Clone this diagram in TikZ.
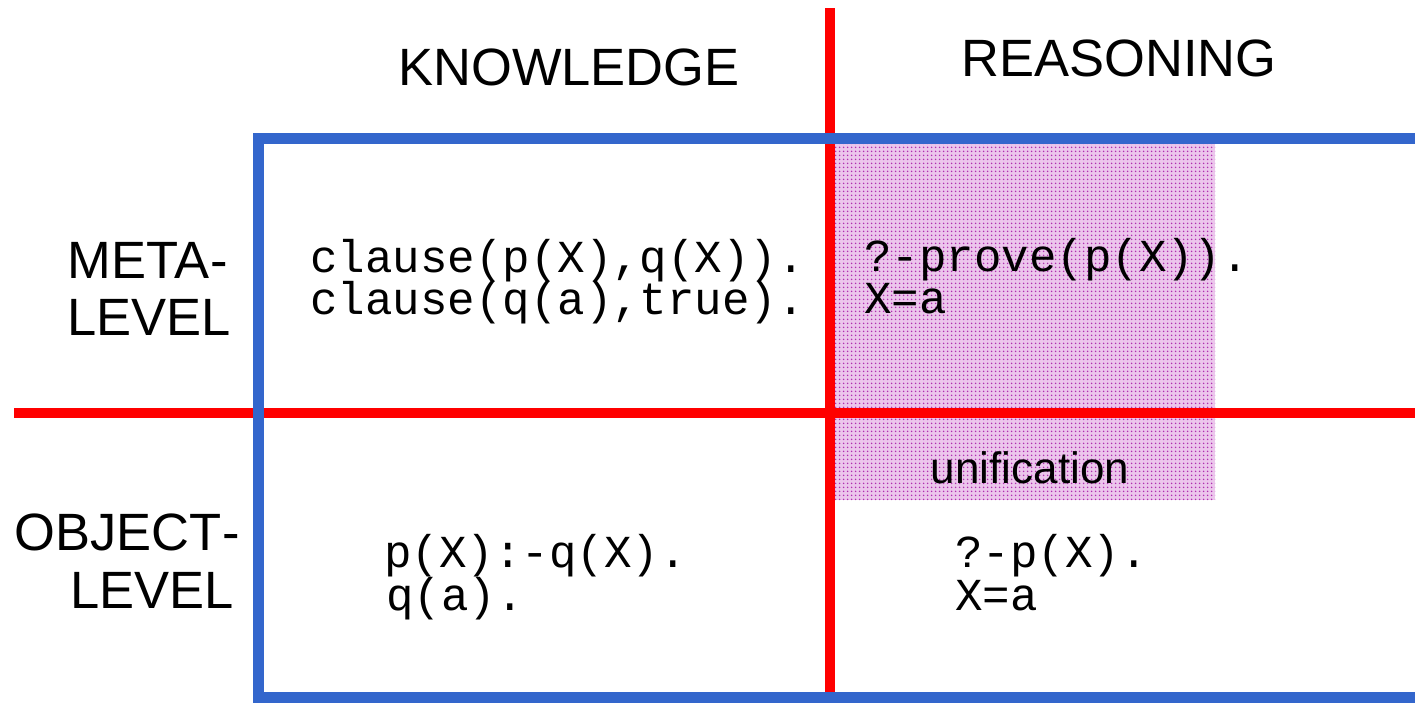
\documentclass[tikz,border=0pt]{standalone}
\usepackage{fontspec}
\setmainfont{Liberation Sans}
\newfontfamily\monof{Liberation Mono}
\usetikzlibrary{patterns.meta}
\definecolor{gridblue}{RGB}{51,102,204}
\definecolor{gridred}{RGB}{255,0,0}
\definecolor{pinkbg}{RGB}{236,198,236}
\definecolor{pinkdot}{RGB}{176,48,176}
\tikzset{
  head/.style={font=\fontsize{52.5}{57}\selectfont, inner sep=0pt, anchor=base},
  side/.style={font=\fontsize{52.5}{57}\selectfont, inner sep=0pt, anchor=base east},
  code/.style={font=\monof\fontsize{45.8}{42}\selectfont, inner sep=0pt, anchor=base west},
  bluerule/.style={draw=gridblue, line width=10.5pt, line join=miter},
  redrule/.style={draw=gridred, line width=10pt},
}
\begin{document}
\begin{tikzpicture}[x=1pt,y=-1pt]
\useasboundingbox (0,0) rectangle (1415,702);
% shaded unification region
\fill[pinkbg] (835,136) rectangle (1215,500);
\fill[pattern={Dots[radius=1pt,distance=4pt]}, pattern color=pinkdot] (835,136) rectangle (1215,500);
% red dividers
\draw[redrule] (830,8) -- (830,702);
\draw[redrule] (14,413) -- (1415,413);
% blue frame (open on the right)
\draw[bluerule] (1415,138.5) -- (258.5,138.5) -- (258.5,697.5) -- (1415,697.5);
% headings
\node[head] (know) at (569,85) {KNOWLEDGE};
\node[head] (reas) at (1119,76) {REASONING};
\node[side] (meta1) at (228,278) {META\kern1pt-};
\node[side] (meta2) at (231,335) {LEVEL};
\node[side] (obj1) at (240,550) {OBJECT\kern1pt-};
\node[side] (obj2) at (234,608) {LEVEL};
% code
\node[code] (mk1) at (310,272) {clause(p(X),q(X)).};
\node[code] (mk2) at (310,314) {clause(q(a),true).};
\node[code] (mr1) at (864,271) {?-prove(p(X)).};
\node[code] (mr2) at (864,313) {X=a};
\node[code] (ok1) at (384,567) {p(X):-q(X).};
\node[code] (ok2) at (386,610) {q(a).};
\node[code] (or1) at (955,567) {?-p(X).};
\node[code] (or2) at (955,610) {X=a};
\node[font=\fontsize{44}{48}\selectfont, inner sep=0pt, anchor=base] (unif) at (1030,483) {unification};
\end{tikzpicture}
\end{document}
